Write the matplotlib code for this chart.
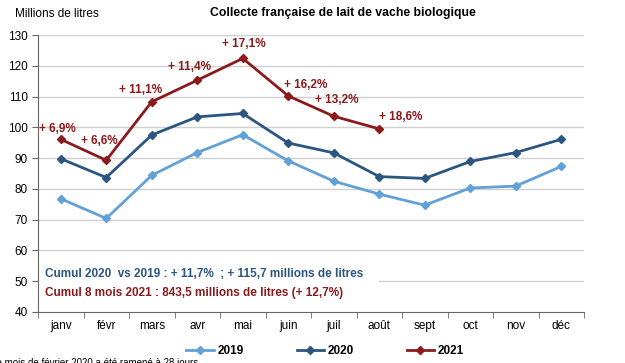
import matplotlib
matplotlib.use("Agg")
import matplotlib.pyplot as plt

plt.rcParams['font.family'] = ['Liberation Sans', 'DejaVu Sans']

months = ["janv", "févr", "mars", "avr", "mai", "juin", "juil", "août", "sept", "oct", "nov", "déc"]
v2019 = [76.8, 70.4, 84.4, 91.8, 97.6, 89.1, 82.5, 78.3, 74.7, 80.3, 80.9, 87.3]
v2020 = [89.8, 83.7, 97.5, 103.4, 104.5, 94.9, 91.7, 84.0, 83.4, 88.9, 91.8, 96.1]
v2021 = [96.1, 89.3, 108.3, 115.3, 122.4, 110.2, 103.6, 99.5]
labels2021 = ["+ 6,9%", "+ 6,6%", "+ 11,1%", "+ 11,4%", "+ 17,1%", "+ 16,2%", "+ 13,2%", "+ 18,6%"]
label_offsets = [(-3, 10), (-7, 19), (-11, 12), (-8, 13), (1, 14), (17, 11), (3, 16), (21, 12)]

c2019 = "#62a0d8"
c2020 = "#2a5680"
c2021 = "#8b1a1c"

fig = plt.figure(figsize=(6.25, 3.63), dpi=100)
ax = fig.add_axes([38/625, 1-312/363, (584-38)/625, (312-35)/363])

x = list(range(12))
ax.set_xlim(-0.5, 11.5)
ax.set_ylim(40, 130)

for yv in range(50, 131, 10):
    if yv == 50:
        ax.axhline(yv, xmin=0.625, xmax=1, color="#d0d0d0", lw=1, zorder=0)
    else:
        ax.axhline(yv, color="#d0d0d0", lw=1, zorder=0)

ax.plot(x, v2019, color=c2019, lw=2, marker="D", ms=4.5, label="2019")
ax.plot(x, v2020, color=c2020, lw=2, marker="D", ms=4.5, label="2020")
ax.plot(x[:len(v2021)], v2021, color=c2021, lw=2, marker="D", ms=4.5, label="2021")

for i, (lab, off) in enumerate(zip(labels2021, label_offsets)):
    ax.annotate(lab, (i, v2021[i]), xytext=off, textcoords="offset pixels",
                ha="center", va="center", color=c2021, fontsize=8.5, fontweight="bold")

ax.set_yticks(range(40, 131, 10))
ax.set_xticks(x)
ax.set_xticklabels(months)
ax.set_xticks([i - 0.5 for i in range(13)], minor=True)
ax.tick_params(axis="x", which="major", length=0, labelsize=8.5, pad=6)
ax.tick_params(axis="x", which="minor", length=4, direction="out", color="#666666")
ax.tick_params(axis="y", length=4, direction="out", labelsize=8.5, color="#666666")
for s in ["top", "right"]:
    ax.spines[s].set_visible(False)
for s in ["left", "bottom"]:
    ax.spines[s].set_color("#666666")

fig.text(45/625, 1-274/363, "Cumul 2020  vs 2019 : + 11,7%  ; + 115,7 millions de litres",
         fontsize=8.5, fontweight="bold", color=c2020, va="center")
fig.text(45/625, 1-293/363, "Cumul 8 mois 2021 : 843,5 millions de litres (+ 12,7%)",
         fontsize=8.5, fontweight="bold", color=c2021, va="center")

fig.text(15/625, 1-14/363, "Millions de litres", fontsize=8.5, va="center")
fig.text(343/625, 1-13/363, "Collecte française de lait de vache biologique",
         fontsize=8.8, fontweight="bold", ha="center", va="center")

fig.legend(loc="center", bbox_to_anchor=(325/625, 1-351/363), ncol=3, frameon=False,
           prop={"weight": "bold", "size": 8.5}, handlelength=2.3, columnspacing=4.5,
           handletextpad=0.3)

fig.text(198/625, 1-358/363, "Remarque : le mois de février 2020 a été ramené à 28 jours",
         fontsize=7, ha="right", va="top")

fig.savefig("out.png", dpi=100)
